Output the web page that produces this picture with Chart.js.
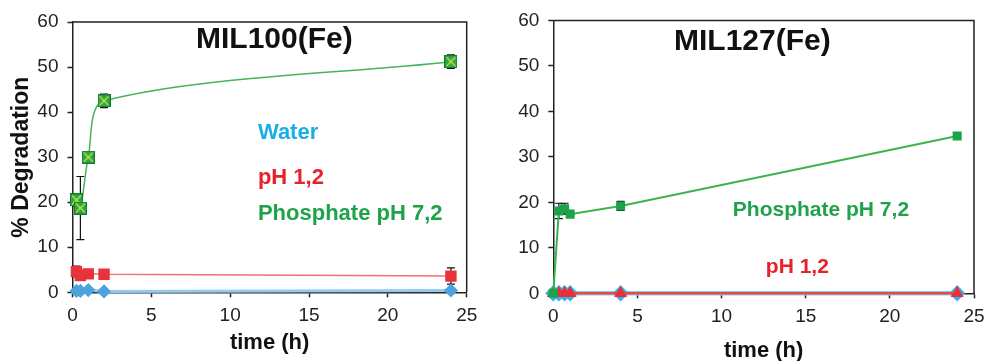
<!DOCTYPE html>
<html>
<head>
<meta charset="utf-8">
<script src="https://cdn.jsdelivr.net/npm/chart.js@4.4.0/dist/chart.umd.min.js"></script>
<style>
  html, body { margin: 0; padding: 0; background: #fff; overflow: hidden; }
  #wrapA { position: absolute; left: 0; top: 0; width: 490px; height: 361px; }
  #wrapB { position: absolute; left: 500px; top: 0; width: 500px; height: 372px; }
</style>
</head>
<body>
<div id="wrapA"><canvas id="chartA"></canvas></div>
<div id="wrapB"><canvas id="chartB"></canvas></div>
<script>
// MIL100(Fe)
const timeA = [0.25, 0.5, 1, 2, 24];
const phosphateA = [20.5, 18.7, 30, 42.5, 51.2];
const phosphateErrA = [1.4, 7, 0.8, 1.5, 1.5];
const acidA = [4.6, 3.7, 4.1, 4.0, 3.6];
const acidErrA = [1.2, 0.6, 0.4, 0.4, 1.8];
const waterA = [0.3, 0.3, 0.5, 0.2, 0.4];

// MIL127(Fe)
const timeB = [0, 0.33, 0.67, 1, 4, 24];
const phosphateB = [0, 18.1, 18.6, 17.4, 19.2, 34.6];
const phosphateErrB = [0, 1.7, 1.2, 0, 1, 0];
const acidB = [0, 0, 0, 0, 0, 0];
const waterB = [0, 0, 0, 0, 0, 0];

const xTicks = [0, 5, 10, 15, 20, 25];
const yTicks = [0, 10, 20, 30, 40, 50, 60];

const FONT = "Arial, 'Liberation Sans', sans-serif";
const AXIS = '#222';

const pts = (xs, ys) => xs.map((x, i) => ({ x: x, y: ys[i] }));

// green square with a yellow cross, like the excel marker
function crossBox(size) {
    const c = document.createElement('canvas');
    c.width = c.height = size;
    const g = c.getContext('2d');
    g.fillStyle = '#27a84a';
    g.fillRect(0, 0, size, size);
    g.strokeStyle = '#17792f';
    g.lineWidth = 1;
    g.strokeRect(0.5, 0.5, size - 1, size - 1);
    g.strokeStyle = '#d6e62e';
    g.lineWidth = 1.2;
    g.beginPath();
    g.moveTo(2, 2); g.lineTo(size - 2, size - 2);
    g.moveTo(size - 2, 2); g.lineTo(2, size - 2);
    g.stroke();
    return c;
}

const errorBars = {
    id: 'errorBars',
    beforeDatasetsDraw(chart) {
        const ctx = chart.ctx;
        const y = chart.scales.y;
        ctx.save();
        ctx.strokeStyle = '#111';
        ctx.lineWidth = 1.2;
        chart.data.datasets.forEach((ds, i) => {
            if (!ds.errors) return;
            const meta = chart.getDatasetMeta(i);
            meta.data.forEach((p, j) => {
                const e = ds.errors[j];
                if (!e) return;
                const v = ds.data[j].y;
                const top = y.getPixelForValue(v + e);
                const bot = y.getPixelForValue(v - e);
                ctx.beginPath();
                ctx.moveTo(p.x, top); ctx.lineTo(p.x, bot);
                ctx.moveTo(p.x - 4, top); ctx.lineTo(p.x + 4, top);
                ctx.moveTo(p.x - 4, bot); ctx.lineTo(p.x + 4, bot);
                ctx.stroke();
            });
        });
        ctx.restore();
    }
};

// top and right border of the plot area + text labels
const frameAndText = {
    id: 'frameAndText',
    afterDraw(chart, args, opts) {
        const ctx = chart.ctx;
        const a = chart.chartArea;
        ctx.save();
        ctx.strokeStyle = AXIS;
        ctx.lineWidth = 1.5;
        ctx.beginPath();
        ctx.moveTo(a.left, a.top);
        ctx.lineTo(a.right, a.top);
        ctx.lineTo(a.right, a.bottom);
        ctx.stroke();
        (opts.labels || []).forEach(l => {
            ctx.font = 'bold ' + l.size + 'px ' + FONT;
            ctx.fillStyle = l.color;
            ctx.textAlign = l.align || 'left';
            ctx.textBaseline = 'middle';
            ctx.fillText(l.text, chart.scales.x.getPixelForValue(l.x), chart.scales.y.getPixelForValue(l.y));
        });
        ctx.restore();
    }
};

function axes(yWidth, xHeight, yTitle, xTitlePad) {
    const tickFont = { family: FONT, size: 19 };
    return {
        x: {
            type: 'linear', min: 0, max: 25,
            afterBuildTicks: s => { s.ticks = xTicks.map(v => ({ value: v })); },
            afterFit: s => { s.height = xHeight; },
            grid: { drawOnChartArea: false, tickLength: 5, tickColor: AXIS, tickWidth: 1.5 },
            border: { color: AXIS, width: 1.5 },
            ticks: { color: AXIS, font: tickFont, padding: 7, maxRotation: 0 },
            title: { display: true, text: 'time (h)', color: '#111',
                     font: { family: FONT, size: 22, weight: 'bold' }, padding: { top: 0, bottom: xTitlePad } }
        },
        y: {
            type: 'linear', min: 0, max: 60,
            afterBuildTicks: s => { s.ticks = yTicks.map(v => ({ value: v })); },
            afterFit: s => { s.width = yWidth; },
            grid: { drawOnChartArea: false, tickLength: 5, tickColor: AXIS, tickWidth: 1.5 },
            border: { color: AXIS, width: 1.5 },
            ticks: { color: AXIS, font: tickFont, padding: 9 },
            title: { display: !!yTitle, text: yTitle || '', color: '#111',
                     font: { family: FONT, size: 23, weight: 'bold' }, padding: { top: 8, bottom: 0 } }
        }
    };
}

new Chart(document.getElementById('chartA'), {
    type: 'scatter',
    data: {
        datasets: [
            {
                data: pts(timeA, phosphateA), errors: phosphateErrA,
                showLine: true, tension: 0.3, borderColor: '#45b556', borderWidth: 1.5,
                pointStyle: crossBox(13), pointRadius: 6, clip: false
            },
            {
                data: pts(timeA, acidA), errors: acidErrA,
                showLine: true, tension: 0, borderColor: '#f07272', borderWidth: 1.5,
                pointStyle: 'rect', pointRadius: 7, backgroundColor: '#e8323c', pointBorderColor: '#e8323c', clip: false
            },
            {
                data: pts(timeA, waterA),
                showLine: true, tension: 0, borderColor: '#93cbee', borderWidth: 3,
                pointStyle: 'rectRot', pointRadius: 5, backgroundColor: '#4ca3dd', pointBorderColor: '#4ca3dd', clip: false
            }
        ]
    },
    options: {
        responsive: true, maintainAspectRatio: false, animation: false,
        layout: { padding: { left: 0, right: 23.3, top: 22, bottom: 0 } },
        plugins: {
            legend: { display: false }, tooltip: { enabled: false },
            frameAndText: {
                labels: [
                    { text: 'MIL100(Fe)', x: 12.8, y: 56, size: 30, color: '#111', align: 'center' },
                    { text: 'Water', x: 11.76, y: 35.4, size: 22, color: '#1aaee6' },
                    { text: 'pH 1,2', x: 11.76, y: 25.4, size: 22, color: '#e8202a' },
                    { text: 'Phosphate pH 7,2', x: 11.76, y: 17.4, size: 22, color: '#1ea34a' }
                ]
            }
        },
        scales: axes(72.5, 68.7, '% Degradation', 4.8)
    },
    plugins: [errorBars, frameAndText]
});

new Chart(document.getElementById('chartB'), {
    type: 'scatter',
    data: {
        datasets: [
            {
                data: pts(timeB, phosphateB), errors: phosphateErrB,
                showLine: true, tension: 0, borderColor: '#3ab54a', borderWidth: 2,
                pointStyle: 'rect', pointRadius: 5, backgroundColor: '#1ba34a', pointBorderColor: '#1ba34a', clip: false
            },
            {
                data: pts(timeB, acidB),
                showLine: true, tension: 0, borderColor: '#e84848', borderWidth: 2.5,
                pointStyle: 'triangle', pointRadius: 5, backgroundColor: '#e8303a', pointBorderColor: '#e8303a', clip: false
            },
            {
                data: pts(timeB, waterB),
                showLine: true, tension: 0, borderColor: '#8acdee', borderWidth: 4.5,
                pointStyle: 'rectRot', pointRadius: 5, backgroundColor: '#36b4e8', pointBorderColor: '#36b4e8', clip: false
            }
        ]
    },
    options: {
        responsive: true, maintainAspectRatio: false, animation: false,
        layout: { padding: { left: 0, right: 26, top: 20, bottom: 0 } },
        plugins: {
            legend: { display: false }, tooltip: { enabled: false },
            frameAndText: {
                labels: [
                    { text: 'MIL127(Fe)', x: 11.83, y: 55.2, size: 30, color: '#111', align: 'center' },
                    { text: 'Phosphate pH 7,2', x: 10.67, y: 18.3, size: 21, color: '#1ea34a' },
                    { text: 'pH 1,2', x: 12.63, y: 5.8, size: 21, color: '#e8202a' }
                ]
            }
        },
        scales: axes(53.3, 78.7, null, 7.5)
    },
    plugins: [errorBars, frameAndText]
});
</script>
</body>
</html>
